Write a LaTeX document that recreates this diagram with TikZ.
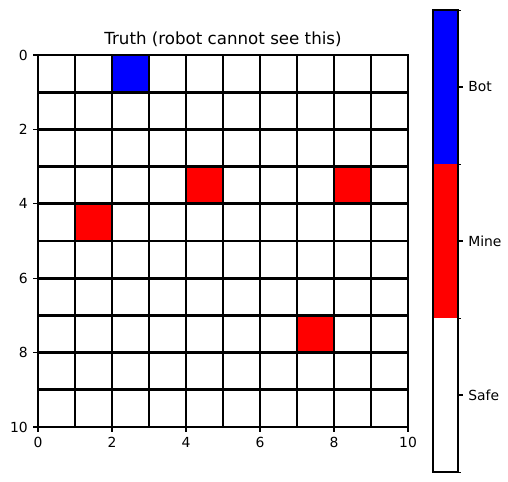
\documentclass[tikz,border=0pt]{standalone}
\usepackage{fontspec}
\setmainfont{DejaVu Sans}
\usepackage{xcolor}
\usetikzlibrary{positioning}

\tikzset{
  gridline/.style={line width=2pt, line cap=rect},
  tickmark/.style={line width=0.8pt},
  minortick/.style={line width=0.6pt},
  ticklabel/.style={font=\fontsize{10}{12}\selectfont, inner sep=0pt},
}

\begin{document}
\begin{tikzpicture}[x=0.72pt, y=-0.72pt]
  \useasboundingbox (0,0) rectangle (508,482);
  % ---------- GRID ----------
  \begin{scope}[shift={(38,55)}]
  \begin{scope}[x=26.64pt, y=-26.78pt]
    \fill[blue] (2,0) rectangle (3,1);
    \foreach \c/\r in {4/3, 8/3, 1/4, 7/7}
      \fill[red] (\c,\r) rectangle ++(1,1);
    \foreach \i in {0,...,10} {
      \draw[gridline] (\i,0) -- (\i,10);
      \draw[gridline] (0,\i) -- (10,\i);
    }
    % ticks
    \foreach \t in {0,2,...,10} {
      \draw[tickmark] (\t,10) -- ++(0,-3.5pt) node[ticklabel, below=3.5pt] (xl\t) {\t};
      \draw[tickmark] (0,\t) -- ++(-3.5pt,0) node[ticklabel, left=3.5pt] (yl\t) {\t};
    }
    \node[font=\fontsize{12}{14}\selectfont, inner sep=0pt, anchor=south] (title) at (5,0) [yshift=6pt] {Truth (robot cannot see this)};
  \end{scope}
  \end{scope}
  % ---------- COLORBAR ----------
  \fill[blue] (433,10) rectangle (458,164);
  \fill[red] (433,164) rectangle (458,318);
  \fill[white] (433,318) rectangle (458,472);
  \draw[tickmark] (433,10) rectangle (458,472);
  \foreach \y in {10,164,318,472}
    \draw[minortick] (458,\y) -- ++(2pt,0);
  \foreach \y/\lab/\nm in {87/Bot/bot, 241/Mine/mine, 395/Safe/safe}
    \draw[tickmark] (458,\y) -- ++(3.5pt,0) node[ticklabel, right=3.5pt] (\nm) {\lab};
\end{tikzpicture}
\end{document}
